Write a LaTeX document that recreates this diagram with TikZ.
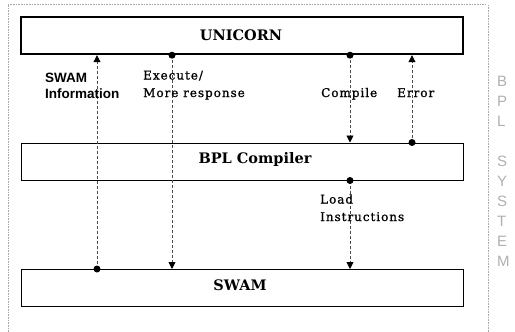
\documentclass[tikz,border=0pt]{standalone}
\usepackage{fontspec}
\usetikzlibrary{arrows.meta}
\newfontfamily\boxfont{DejaVu Serif}
\newfontfamily\notefont{DejaVu Serif}[LetterSpace=8, FakeBold=1]
\newfontfamily\sansnote{Liberation Sans}
\newfontfamily\sidefont{Liberation Sans}
\definecolor{linkgray}{HTML}{4A4A4A}
\definecolor{framegray}{HTML}{A8A8A8}
\definecolor{sidegray}{HTML}{B0B0B0}
\tikzset{
  layer/.style={draw=black, line width=1pt, rectangle, inner sep=0pt,
    minimum width=442pt, minimum height=37pt},
  boxlabel/.style={anchor=base, inner sep=0pt,
    font=\boxfont\bfseries\fontsize{14.5}{16}\selectfont},
  note/.style={anchor=base west, inner sep=0pt, align=left,
    font=\notefont\fontsize{12}{17.5}\selectfont},
  sansnotestyle/.style={anchor=base west, inner sep=0pt, align=left,
    font=\sansnote\bfseries\fontsize{13.5}{16.5}\selectfont},
  link/.style={draw=linkgray, line width=0.9pt, dash pattern=on 3pt off 2pt},
  tip/.style={-{Triangle[width=7pt,length=7pt,color=black]}},
  sideletter/.style={anchor=base west, inner sep=0pt, text=sidegray,
    font=\sidefont\fontsize{15}{15}\selectfont},
}
\begin{document}
\begin{tikzpicture}[x=1pt, y=-1pt]
  \useasboundingbox (0,0) rectangle (515,332);

  % dotted frame of the system
  \draw[framegray, line width=0.8pt, dash pattern=on 0.8pt off 0.8pt]
    (8,332) -- (8,4) -- (486,4);
  \draw[framegray, line width=0.8pt, dash pattern=on 0.8pt off 0.8pt]
    (488,5) -- (488,332);

  % the three layers
  \node[layer, line width=2.4pt] (uni) at (242,35.5) {};
  \node[layer] (bpl) at (242,161.5) {};
  \node[layer] (swam) at (242,288) {};

  \node[boxlabel] (unilabel) at (241,40) {UNICORN};
  \node[boxlabel] (bpllabel) at (255,163) {BPL Compiler};
  \node[boxlabel] (swamlabel) at (240,290) {SWAM};

  % columns of the connectors
  \coordinate (c1) at (97,0);
  \coordinate (c2) at (172,0);
  \coordinate (c3) at (350,0);
  \coordinate (c4) at (412,0);

  % SWAM information: SWAM -> UNICORN
  \draw[link, tip] (swam.north -| c1) -- (uni.south -| c1);
  \fill (swam.north -| c1) circle (3.5);
  % execute / more response: UNICORN -> SWAM
  \draw[link, tip] (uni.south -| c2) -- (swam.north -| c2);
  \fill (uni.south -| c2) circle (3.5);
  % compile: UNICORN -> BPL compiler
  \draw[link, tip] (uni.south -| c3) -- (bpl.north -| c3);
  \fill (uni.south -| c3) circle (3.5);
  % error: BPL compiler -> UNICORN
  \draw[link, tip] (bpl.north -| c4) -- (uni.south -| c4);
  \fill (bpl.north -| c4) circle (3.5);
  % load instructions: BPL compiler -> SWAM
  \draw[link, tip] (bpl.south -| c3) -- (swam.north -| c3);
  \fill (bpl.south -| c3) circle (3.5);

  % connector labels
  \node[sansnotestyle] (l1) at (45,98.5) {SWAM\\Information};
  \node[note] (l2) at (143,97) {Execute/\\More response};
  \node[note] (l3) at (321,97) {Compile};
  \node[note] (l4) at (397,97) {Error};
  \node[note] (l5) at (320,221) {Load\\Instructions};

  % vertical caption on the right
  \node[sideletter] (s1) at (497,86) {B};
  \node[sideletter] (s2) at (497,106) {P};
  \node[sideletter] (s3) at (497,126) {L};
  \node[sideletter] (s4) at (497,166) {S};
  \node[sideletter] (s5) at (497,186) {Y};
  \node[sideletter] (s6) at (497,206) {S};
  \node[sideletter] (s7) at (497,226) {T};
  \node[sideletter] (s8) at (497,246) {E};
  \node[sideletter] (s9) at (497,266) {M};
\end{tikzpicture}
\end{document}
